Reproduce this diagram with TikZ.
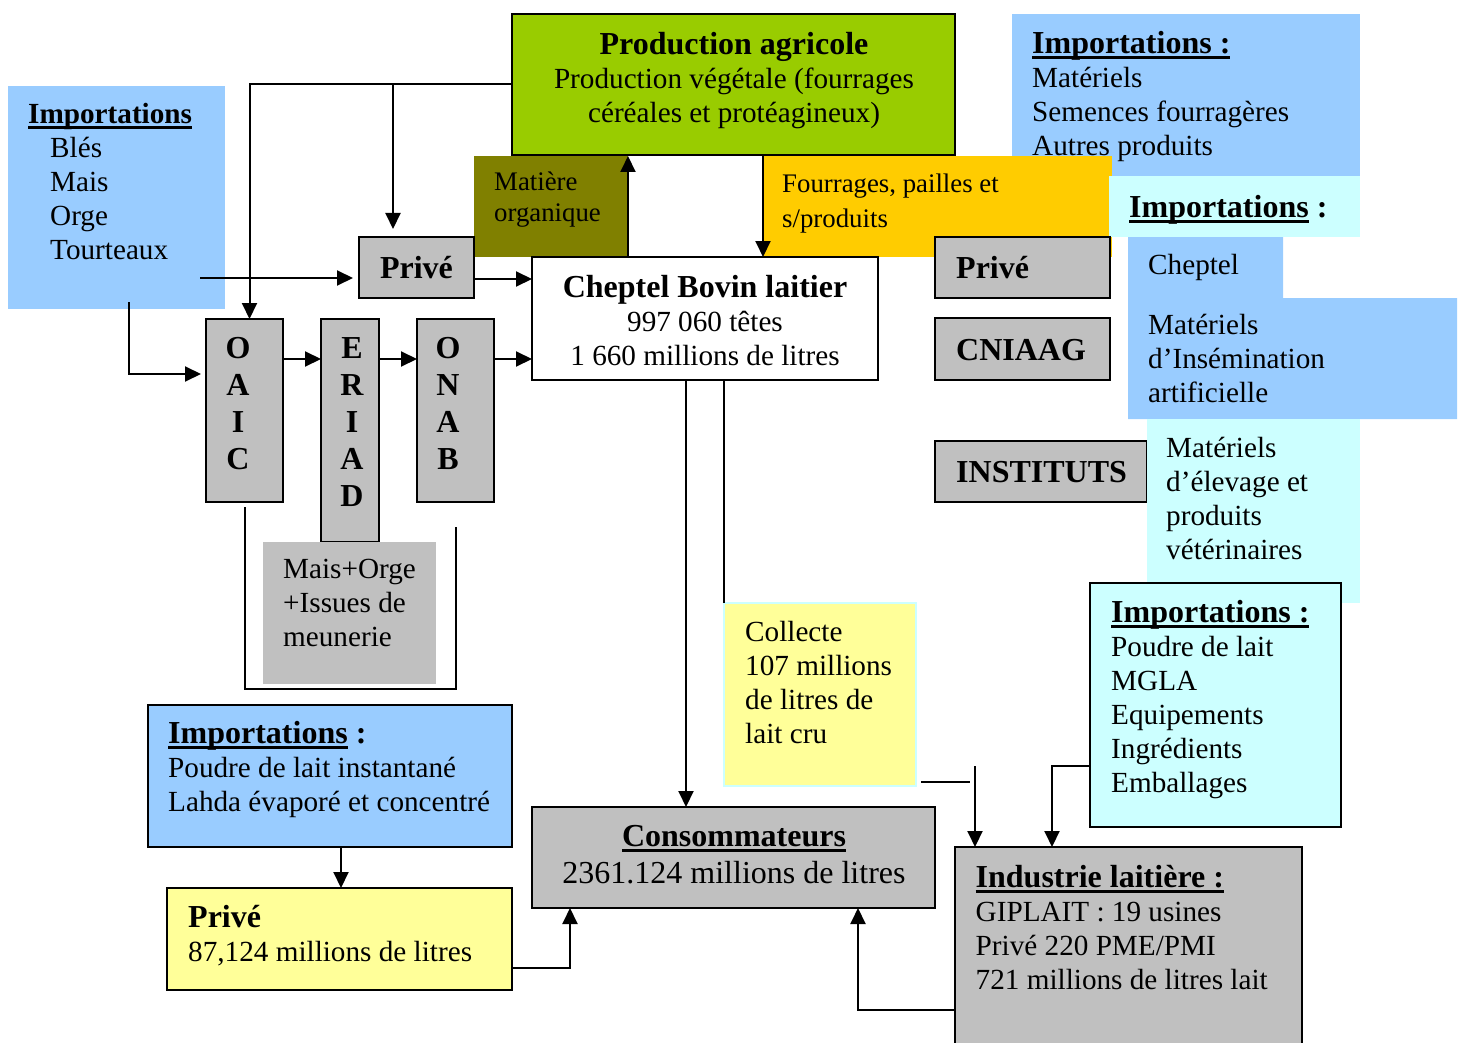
\documentclass[tikz,border=0pt]{standalone}
\usepackage{fontspec}
\setmainfont{Liberation Serif}
\usetikzlibrary{arrows.meta, positioning}

\definecolor{agri}{HTML}{99CC00}
\definecolor{olive}{HTML}{808000}
\definecolor{gold}{HTML}{FFCC00}
\definecolor{impblue}{HTML}{99CCFF}
\definecolor{impcyan}{HTML}{CCFFFF}
\definecolor{boxgray}{HTML}{C0C0C0}
\definecolor{pale}{HTML}{FFFF99}

\newcommand\fnorm{\fontsize{29.2pt}{34pt}\selectfont}
\newcommand\fbig{\fontsize{32pt}{34pt}\selectfont}
\newcommand\ulined[1]{\setbox0\hbox{#1}\rlap{\rule[-6pt]{\wd0}{3pt}}\box0\relax}

\tikzset{
  % Graph arrow style
  garr/.style={
    line width = 2pt, -{Triangle[length=16pt,width=15pt]}
  },
  gline/.style={line width = 2pt},
}

\begin{document}
\begin{tikzpicture}
          [x=1pt, y=-1pt,
           panel/.style={anchor=north west, inner sep=0pt, outer sep=0pt},
           framed/.style={panel, draw=black, line width=2.2pt},
           txt/.style={anchor=north west, inner sep=0pt, align=left, font=\fnorm},
           letters/.style={anchor=north, inner sep=0pt, align=center,
                           font=\fontsize{32pt}{37pt}\selectfont\bfseries}
          ]
          \useasboundingbox (0,0) rectangle (1461,1043);

          % top row
          \node (prod) [framed, fill=agri, minimum width=443pt, minimum height=141pt] at (512,14) {};
          \node (prod-t) [txt, anchor=north, align=center] at (734,30.2)
                {\strut{\fbig\bfseries Production agricole}\\
                 Production végétale (fourrages\\
                 céréales et protéagineux)};

          \node (impL) [panel, fill=impblue, minimum width=217pt, minimum height=223pt] at (8,86) {};
          \node (impL-t) [txt] at (28,99.2)
                {\strut{\bfseries\ulined{Importations}}\\
                 \hspace*{22pt}Blés\\
                 \hspace*{22pt}Mais\\
                 \hspace*{22pt}Orge\\
                 \hspace*{22pt}Tourteaux};

          \node (olive) [panel, fill=olive, minimum width=154pt, minimum height=101pt] at (474,156) {};
          \node (olive-t) [txt, font=\fontsize{26.8pt}{31pt}\selectfont] at (494,168.3)
                {\strut Matière\\ organique};

          \node (impR) [panel, fill=impblue, minimum width=348pt, minimum height=162pt] at (1012,14) {};
          \node (impR-t) [txt] at (1032,29.2)
                {\strut{\fbig\bfseries\ulined{Importations :}}\\
                 Matériels\\
                 Semences fourragères\\
                 Autres produits};

          \node (orange) [panel, fill=gold, minimum width=349pt, minimum height=101pt] at (763,156) {};
          \node (orange-t) [txt, font=\fontsize{26.8pt}{35pt}\selectfont] at (782,167.5)
                {\strut Fourrages, pailles et\\ s/produits};

          % right column
          \node (hdr) [panel, fill=impcyan, minimum width=251pt, minimum height=61pt] at (1109,176) {};
          \node (hdr-t) [txt] at (1129,193.2) {\strut{\fbig\bfseries\ulined{Importations} :}};

          \fill[impblue] (1128,237) -- (1283,237) -- (1283,298) -- (1457,298)
                         -- (1457,419) -- (1128,419) -- cycle;
          \node (cheptelimp-t) [txt] at (1148,250.2) {\strut Cheptel};
          \node (insem-t) [txt] at (1148,310.2)
                {\strut Matériels\\ d’Insémination\\ artificielle};

          \node (privR) [framed, fill=boxgray, minimum width=175pt, minimum height=61pt] at (935,237) {};
          \node (privR-t) [anchor=base west, inner sep=0pt, font=\fbig\bfseries] at (956,278) {Privé};
          \node (cniaag) [framed, fill=boxgray, minimum width=175pt, minimum height=62pt] at (935,318) {};
          \node (cniaag-t) [anchor=base west, inner sep=0pt, font=\fbig\bfseries] at (956,360) {CNIAAG};
          \node (inst) [framed, fill=boxgray, minimum width=212pt, minimum height=61pt] at (935,441) {};
          \node (inst-t) [anchor=base west, inner sep=0pt, font=\fbig\bfseries] at (956,482) {INSTITUTS};

          \node (elev) [panel, fill=impcyan, minimum width=213pt, minimum height=184pt] at (1147,419) {};
          \node (elev-t) [txt] at (1166,433.2)
                {\strut Matériels\\ d’élevage et\\ produits\\ vétérinaires};

          % middle
          \node (privL) [framed, fill=boxgray, minimum width=115pt, minimum height=61pt] at (359,237) {};
          \node (privL-t) [anchor=base, inner sep=0pt, font=\fbig\bfseries] at (416.5,278) {Privé};

          \node (cheptel) [framed, fill=white, minimum width=346pt, minimum height=123pt] at (532,257) {};
          \node (cheptel-t) [txt, anchor=north, align=center] at (705,273.2)
                {\strut{\fbig\bfseries Cheptel Bovin laitier}\\
                 997 060 têtes\\
                 1 660 millions de litres};

          \node (oaic) [framed, fill=boxgray, minimum width=77pt, minimum height=183pt] at (206,319) {};
          \node (oaic-t) [letters] at (238,332.1) {\strut O\\A\\I\\C};
          \node (eriad) [framed, fill=boxgray, minimum width=58pt, minimum height=223pt] at (321,319) {};
          \node (eriad-t) [letters] at (352,332.1) {\strut E\\R\\I\\A\\D};
          \node (onab) [framed, fill=boxgray, minimum width=77pt, minimum height=183pt] at (417,319) {};
          \node (onab-t) [letters] at (448,332.1) {\strut O\\N\\A\\B};

          \node (mais) [panel, fill=boxgray, minimum width=173pt, minimum height=142pt] at (263,542) {};
          \node (mais-t) [txt] at (283,554.2)
                {\strut Mais+Orge\\ +Issues de\\ meunerie};

          \node (collecte) [panel, fill=pale, draw=impcyan, line width=1.5pt,
                            minimum width=192pt, minimum height=183pt] at (724,603) {};
          \node (collecte-t) [txt] at (745,617.2)
                {\strut Collecte\\ 107 millions\\ de litres de\\ lait cru};

          \node (impC) [framed, fill=impcyan, minimum width=251pt, minimum height=244pt] at (1090,583) {};
          \node (impC-t) [txt] at (1111,598.2)
                {\strut{\fbig\bfseries\ulined{Importations :}}\\
                 Poudre de lait\\ MGLA\\ Equipements\\ Ingrédients\\ Emballages};

          % bottom row
          \node (impB) [framed, fill=impblue, minimum width=364pt, minimum height=142pt] at (148,705) {};
          \node (impB-t) [txt] at (168,719.2)
                {\strut{\fbig\bfseries\ulined{Importations} :}\\
                 Poudre de lait instantané\\
                 Lahda évaporé et concentré};

          \node (privY) [framed, fill=pale, minimum width=345pt, minimum height=102pt] at (167,888) {};
          \node (privY-t) [txt] at (188,903.2)
                {\strut{\fbig\bfseries Privé}\\ 87,124 millions de litres};

          \node (conso) [framed, fill=boxgray, minimum width=403pt, minimum height=101pt] at (532,807) {};
          \node (conso-t) [txt, anchor=north, align=center,
                           font=\fontsize{32pt}{37pt}\selectfont] at (734,820.1)
                {\strut{\bfseries\ulined{Consommateurs}}\\ 2361.124 millions de litres};

          \node (indus) [framed, fill=boxgray, minimum width=347pt, minimum height=220pt] at (955,847) {};
          \node (indus-t) [txt] at (975.5,863.2)
                {\strut{\fbig\bfseries\ulined{Industrie laitière :}}\\
                 GIPLAIT : 19 usines\\
                 Privé 220 PME/PMI\\
                 721 millions de litres lait};

          % connectors
          \coordinate (brP) at (393,85);
          \coordinate (impLa) at (200,278);
          \coordinate (impLb) at (129,302);
          \coordinate (oaicL) at (206,374);
          \coordinate (c1) at (474,279);
          \coordinate (rowY) at (0,359);
          \coordinate (c686) at (686,0);
          \coordinate (colA) at (921,782);
          \coordinate (colB) at (970,782);
          \coordinate (indA) at (975,766);
          \coordinate (indB) at (1052,766);
          \coordinate (cA) at (570,968);
          \coordinate (cB) at (858,1010);
          \coordinate (c341) at (341,0);

          \draw[garr] (prod.west) -| ([xshift=5pt]oaic.north);
          \draw[garr, shorten >=8pt] (brP) -- (brP |- privL.north);
          \draw[garr, shorten >=6pt] (impLa) -- (impLa -| privL.west);
          \draw[garr, shorten >=5pt] (impLb) |- (oaicL);
          \draw[garr] (c1) -- (c1 -| cheptel.west);

          \draw[garr] (oaic.east |- rowY) -- (eriad.west |- rowY);
          \draw[garr] (eriad.east |- rowY) -- (onab.west |- rowY);
          \draw[garr] (onab.east |- rowY) -- (cheptel.west |- rowY);

          \draw[garr] (olive.south east) -- (olive.north east);
          \draw[garr] (orange.north west) -- (orange.south west);

          \draw[garr] (cheptel.south -| c686) -- (conso.north -| c686);
          \draw[gline] (cheptel.south -| collecte.west) -- (collecte.north west);

          \draw[gline] (colA) -- (colB);
          \draw[garr] (indA) -- (indA |- indus.north);
          \draw[garr] (impC.west |- indB) -- (indB) -- (indB |- indus.north);

          \draw[garr] (indus.west |- cB) -| (cB |- conso.south);
          \draw[garr] (privY.east |- cA) -| (cA |- conso.south);
          \draw[garr] (impB.south -| c341) -- (privY.north -| c341);

          \draw[gline] ([yshift=-5pt]oaic.south) |- ([yshift=-187pt]onab.south)
                       -- ([yshift=-25pt]onab.south);
      \end{tikzpicture}
\end{document}
